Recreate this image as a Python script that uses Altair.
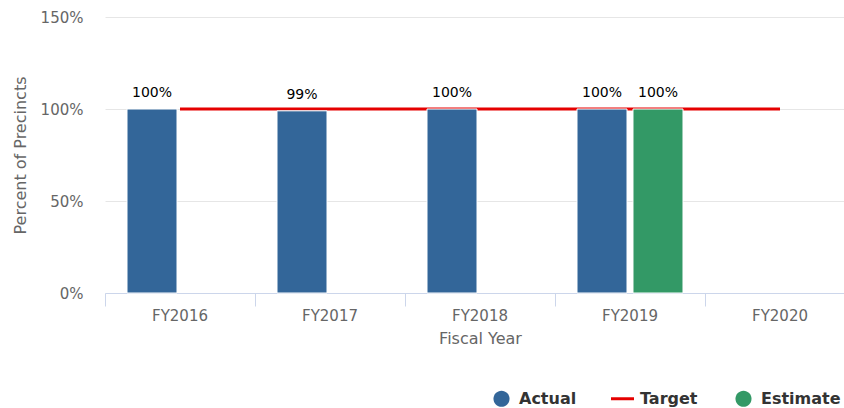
import altair as alt
import pandas as pd

# Fiscal years and the series values (percent of precincts)
years = ["FY2016", "FY2017", "FY2018", "FY2019", "FY2020"]
actual = [100, 99, 100, 100, None]
estimate = [None, None, None, 100, None]
target = [100, 100, 100, 100, 100]

series_names = ["Actual", "Target", "Estimate"]
series_colors = ["#336699", "#e50000", "#339966"]

# Legend glyphs in unit symbol space: a round dot and a short flat bar
DOT = "M0.7,0A0.7,0.7 0 1,1 -0.7,0A0.7,0.7 0 1,1 0.7,0Z"
DASH = "M-1,-0.13L1,-0.13L1,0.13L-1,0.13Z"
legend_shapes = [DOT, DASH, DOT]
y_ticks = [0, 50, 100, 150]

FONT = "DejaVu Sans"
GREY = "#666666"

bar_rows = []
for yr, a, e in zip(years, actual, estimate):
    if a is not None:
        bar_rows.append({"year": yr, "series": "Actual", "value": a})
    if e is not None:
        bar_rows.append({"year": yr, "series": "Estimate", "value": e})
bars_df = pd.DataFrame(bar_rows)

target_df = pd.DataFrame({"year": years, "series": "Target", "value": target})
legend_df = pd.DataFrame({"series": series_names})

x_enc = alt.X(
    "year:N",
    sort=years,
    scale=alt.Scale(domain=years, range=[0, 750], paddingInner=0, paddingOuter=0),
    axis=alt.Axis(
        title="Fiscal Year",
        titleX=375,
        bandPosition=0,
        labelAngle=0,
        grid=False,
        tickSize=13,
        tickColor="#ccd6eb",
        domainColor="#ccd6eb",
        labelColor=GREY,
        labelFont=FONT,
        labelFontSize=15,
        labelPadding=2,
        titleColor=GREY,
        titleFont=FONT,
        titleFontSize=16,
        titleFontWeight="normal",
        titlePadding=7,
    ),
)

y_enc = alt.Y(
    "value:Q",
    scale=alt.Scale(domain=[0, 150], nice=False),
    axis=alt.Axis(
        title="Percent of Precincts",
        values=y_ticks,
        labelExpr="datum.value + '%'",
        grid=True,
        gridColor="#e6e6e6",
        domain=False,
        ticks=False,
        labelColor=GREY,
        labelFont=FONT,
        labelFontSize=15,
        labelPadding=22,
        titleColor=GREY,
        titleFont=FONT,
        titleFontSize=16,
        titleFontWeight="normal",
        titlePadding=12,
    ),
)

legend = alt.Legend(
    title=None,
    orient="none",
    legendX=385,
    legendY=370,
    direction="horizontal",
    padding=0,
    labelFont=FONT,
    labelFontSize=16,
    labelFontWeight="bold",
    labelColor="#333333",
    labelOffset=6,
    columnPadding=34,
    symbolSize=529,
    symbolStrokeWidth=0,
    symbolOpacity=1,
)

target_line = alt.Chart(target_df).mark_line(
    strokeWidth=3, color=series_colors[1]
).encode(x=x_enc, y=y_enc)

offset_enc = alt.XOffset(
    "series:N",
    scale=alt.Scale(domain=["Actual", "Estimate"], paddingInner=0.107, paddingOuter=0.393),
)

bars = alt.Chart(bars_df).mark_bar(stroke="white", strokeWidth=1).encode(
    x=x_enc,
    xOffset=offset_enc,
    y=y_enc,
    color=alt.condition(
        alt.datum.series == series_names[0],
        alt.value(series_colors[0]),
        alt.value(series_colors[2]),
    ),
)

labels = alt.Chart(bars_df).transform_calculate(
    label="format(datum.value, '.0f') + '%'"
).mark_text(
    baseline="bottom", dy=-9, font=FONT, fontSize=14, color="#000000"
).encode(
    x=x_enc, xOffset=offset_enc, y=y_enc, text="label:N"
)

# Legend-only layer: no rows survive the filter, only the merged legend is drawn
legend_layer = alt.Chart(legend_df).transform_filter("false").mark_point(
    filled=True, opacity=1
).encode(
    color=alt.Color(
        "series:N",
        scale=alt.Scale(domain=series_names, range=series_colors),
        sort=series_names,
        legend=legend,
    ),
    shape=alt.Shape(
        "series:N",
        scale=alt.Scale(domain=series_names, range=legend_shapes),
        sort=series_names,
        legend=legend,
    ),
)

chart = alt.layer(target_line, bars, labels, legend_layer).properties(
    width=739,
    height=276,
    padding={"left": 105, "top": 17, "right": 0, "bottom": 115},
    autosize="none",
    background="white",
).configure_view(stroke=None)

chart.save("out.html", embed_options={"renderer": "svg", "actions": False})
